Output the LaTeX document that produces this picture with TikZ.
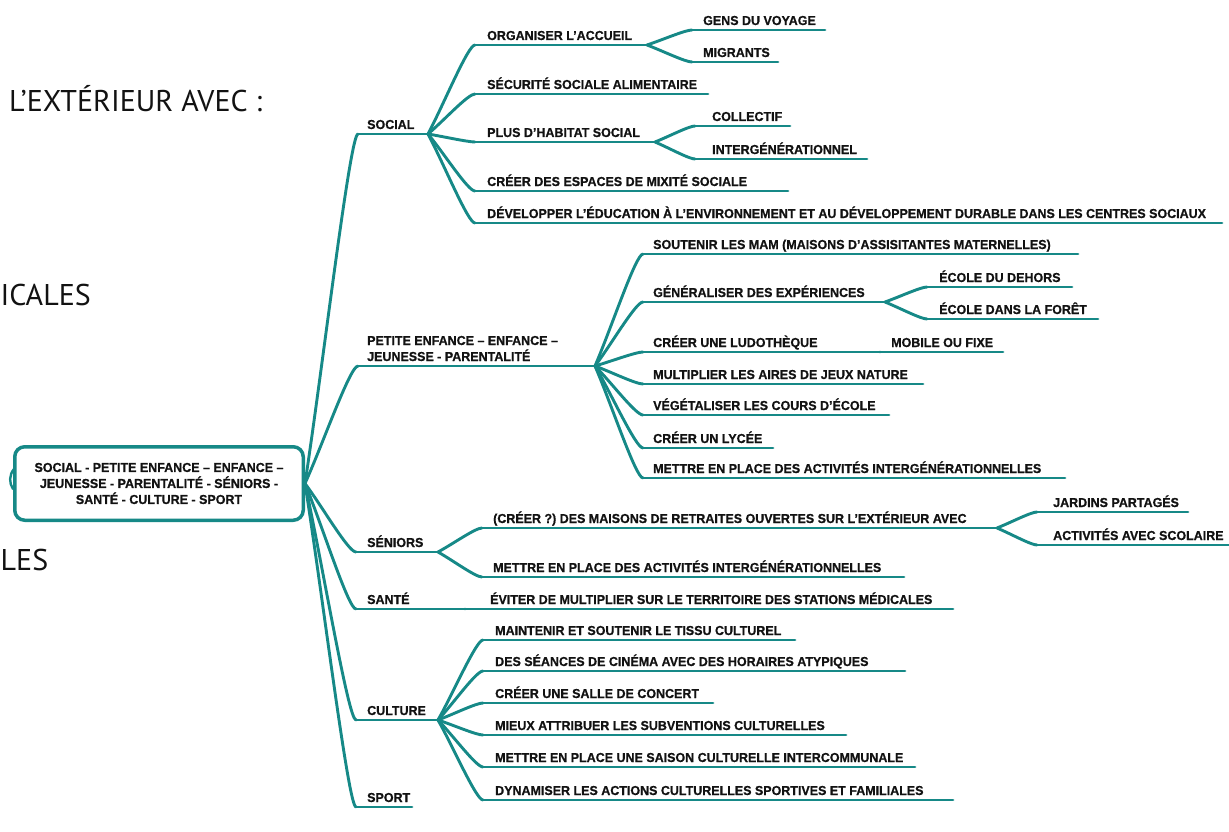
\documentclass[tikz,border=0pt]{standalone}
\usepackage{fontspec}
\setmainfont{Liberation Sans}
\newfontfamily\lblfont{Liberation Sans}[FakeStretch=0.96, BoldFeatures={FakeBold=0.8}]
\newfontfamily\fragfont{PT Sans}
\usetikzlibrary{calc}
\definecolor{teal1}{RGB}{22,137,135}
\definecolor{ink}{RGB}{18,18,18}
\tikzset{
  br/.style={draw=teal1, line width=2.9pt, line cap=round},
  cv/.style={to path={let \p1=(\tikztostart), \p2=(\tikztotarget) in
     .. controls ({\x1+0.35*(\x2-\x1)},{\y1+0.35*(\y2-\y1)}) and ({\x1+0.85*(\x2-\x1)},{\y2}) .. (\tikztotarget)}},
  lab/.style={font=\lblfont\bfseries\fontsize{13}{15}\selectfont, text=ink, inner sep=0pt, anchor=base west},
  frag/.style={font=\fragfont\fontsize{30}{35}\selectfont, text=ink, inner sep=0pt},
  rootbox/.style={draw=teal1, line width=3.5pt, rounded corners=10pt, minimum width=288.5pt,
     minimum height=73.5pt, align=center, inner sep=0pt,
     font=\lblfont\bfseries\fontsize{13}{16}\selectfont, text=ink}
}
\newcommand\mmtopic[6]{%
  \coordinate (#1-a) at (#2,#4);
  \coordinate (#1-b) at (#3,#4);
  \draw[br] (#1-a) -- (#1-b);
  \node[lab] (#1) at (#5,#4-5) {#6};
}
\begin{document}
\begin{tikzpicture}[x=1pt,y=-1pt]
\useasboundingbox (0,0) rectangle (1229,832);

% left cropped fragments
\node[frag, anchor=base west] (f1) at (9,112) {L’EXTÉRIEUR AVEC :};
\node[frag, anchor=base west] (f2) at (0.5,305) {ICALES};
\node[frag, anchor=base west] (f3) at (0.5,570) {LES};
\coordinate (lm1) at (14,469);
\coordinate (lm2) at (13,489);
\draw[br, line width=2.4pt] (lm1) .. controls (9,475) and (9,483) .. (lm2);

% root
\node[rootbox, fill=white] (root) at (159,483.5) {SOCIAL - PETITE ENFANCE – ENFANCE –\\JEUNESSE - PARENTALITÉ - SÉNIORS -\\SANTÉ - CULTURE - SPORT};

% main branches
\mmtopic{soc}{358}{428}{134}{367}{SOCIAL}
\coordinate (pe-a) at (358,366);
\coordinate (pe-b) at (595,366);
\draw[br] (pe-a) -- (pe-b);
\node[lab] (pe1) at (367,345) {PETITE ENFANCE – ENFANCE –};
\node[lab] (pe2) at (367,361) {JEUNESSE - PARENTALITÉ};
\mmtopic{sen}{356}{438}{552}{367}{SÉNIORS}
\mmtopic{san}{356}{465}{609}{367}{SANTÉ}
\mmtopic{cul}{356}{438}{720}{367}{CULTURE}
\mmtopic{spo}{356}{412}{807}{367}{SPORT}

\foreach \t in {soc,pe,sen,san,cul,spo}{\draw[br] (root.east) to[cv] (\t-a);}

% SOCIAL
\mmtopic{org}{475}{647}{45}{487}{ORGANISER L’ACCUEIL}
\mmtopic{gens}{692}{825}{30}{703}{GENS DU VOYAGE}
\mmtopic{migr}{692}{778}{62}{703}{MIGRANTS}
\mmtopic{sec}{475}{708}{94}{487}{SÉCURITÉ SOCIALE ALIMENTAIRE}
\mmtopic{plus}{475}{655}{142}{487}{PLUS D’HABITAT SOCIAL}
\mmtopic{coll}{695}{790}{126}{712}{COLLECTIF}
\mmtopic{intg}{695}{867}{159}{712}{INTERGÉNÉRATIONNEL}
\mmtopic{mix}{475}{788}{191}{487}{CRÉER DES ESPACES DE MIXITÉ SOCIALE}
\mmtopic{dev}{475}{1222}{223}{487}{DÉVELOPPER L’ÉDUCATION À L’ENVIRONNEMENT ET AU DÉVELOPPEMENT DURABLE DANS LES CENTRES SOCIAUX}
\foreach \t in {org,sec,plus,mix,dev}{\draw[br] (soc-b) to[cv] (\t-a);}
\foreach \t in {gens,migr}{\draw[br] (org-b) to[cv] (\t-a);}
\foreach \t in {coll,intg}{\draw[br] (plus-b) to[cv] (\t-a);}

% PETITE ENFANCE
\mmtopic{mam}{643}{1078}{254}{653}{SOUTENIR LES MAM (MAISONS D’ASSISITANTES MATERNELLES)}
\mmtopic{gen}{643}{885}{302}{653}{GÉNÉRALISER DES EXPÉRIENCES}
\mmtopic{deh}{927}{1072}{287}{939}{ÉCOLE DU DEHORS}
\mmtopic{for}{927}{1098}{319}{939}{ÉCOLE DANS LA FORÊT}
\mmtopic{ludo}{643}{880}{352}{653}{CRÉER UNE LUDOTHÈQUE}
\mmtopic{mob}{880}{1003}{352}{891}{MOBILE OU FIXE}
\mmtopic{mult}{643}{923}{384}{653}{MULTIPLIER LES AIRES DE JEUX NATURE}
\mmtopic{veg}{643}{889}{415}{653}{VÉGÉTALISER LES COURS D’ÉCOLE}
\mmtopic{lyc}{643}{773}{448}{653}{CRÉER UN LYCÉE}
\mmtopic{act}{643}{1065}{478}{653}{METTRE EN PLACE DES ACTIVITÉS INTERGÉNÉRATIONNELLES}
\foreach \t in {mam,gen,ludo,mult,veg,lyc,act}{\draw[br] (pe-b) to[cv] (\t-a);}
\foreach \t in {deh,for}{\draw[br] (gen-b) to[cv] (\t-a);}
\draw[br] (ludo-b) -- (mob-a);

% SENIORS
\mmtopic{mai}{482}{997}{528}{493}{(CRÉER ?) DES MAISONS DE RETRAITES OUVERTES SUR L’EXTÉRIEUR AVEC}
\mmtopic{jar}{1037}{1188}{512}{1053}{JARDINS PARTAGÉS}
\mmtopic{sco}{1037}{1229}{545}{1053}{ACTIVITÉS AVEC SCOLAIRE}
\mmtopic{act2}{482}{904}{577}{493}{METTRE EN PLACE DES ACTIVITÉS INTERGÉNÉRATIONNELLES}
\foreach \t in {mai,act2}{\draw[br] (sen-b) to[cv] (\t-a);}
\foreach \t in {jar,sco}{\draw[br] (mai-b) to[cv] (\t-a);}

% SANTE
\mmtopic{evi}{465}{953}{609}{490}{ÉVITER DE MULTIPLIER SUR LE TERRITOIRE DES STATIONS MÉDICALES}
\draw[br] (san-b) -- (evi-a);

% CULTURE
\mmtopic{cm1}{483}{795}{640}{495}{MAINTENIR ET SOUTENIR LE TISSU CULTUREL}
\mmtopic{cm2}{483}{905}{671}{495}{DES SÉANCES DE CINÉMA AVEC DES HORAIRES ATYPIQUES}
\mmtopic{cm3}{483}{713}{703}{495}{CRÉER UNE SALLE DE CONCERT}
\mmtopic{cm4}{483}{846}{735}{495}{MIEUX ATTRIBUER LES SUBVENTIONS CULTURELLES}
\mmtopic{cm5}{483}{915}{767}{495}{METTRE EN PLACE UNE SAISON CULTURELLE INTERCOMMUNALE}
\mmtopic{cm6}{483}{953}{800}{495}{DYNAMISER LES ACTIONS CULTURELLES SPORTIVES ET FAMILIALES}
\foreach \t in {cm1,cm2,cm3,cm4,cm5,cm6}{\draw[br] (cul-b) to[cv] (\t-a);}
\end{tikzpicture}
\end{document}
